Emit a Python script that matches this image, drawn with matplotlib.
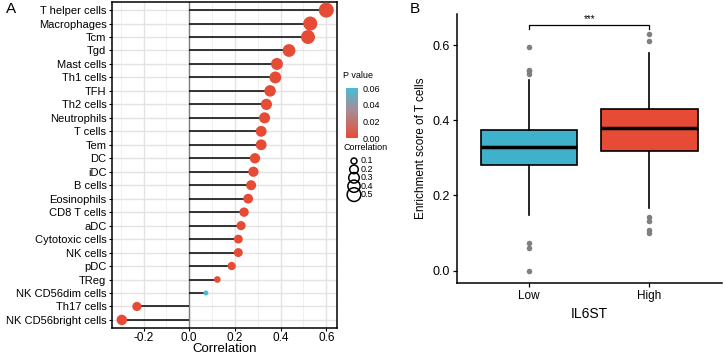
import numpy as np
import matplotlib
matplotlib.use('Agg')
import matplotlib.pyplot as plt
from matplotlib.colors import LinearSegmentedColormap

plt.rcParams['font.family'] = ['Liberation Sans', 'DejaVu Sans']

# ---- panel A data (top to bottom) ----
cells = ['T helper cells', 'Macrophages', 'Tcm', 'Tgd', 'Mast cells', 'Th1 cells', 'TFH',
         'Th2 cells', 'Neutrophils', 'T cells', 'Tem', 'DC', 'iDC', 'B cells', 'Eosinophils',
         'CD8 T cells', 'aDC', 'Cytotoxic cells', 'NK cells', 'pDC', 'TReg',
         'NK CD56dim cells', 'Th17 cells', 'NK CD56bright cells']
corr = [0.60, 0.53, 0.52, 0.437, 0.384, 0.377, 0.354, 0.338, 0.33, 0.315, 0.315, 0.288,
        0.281, 0.271, 0.258, 0.240, 0.227, 0.215, 0.215, 0.186, 0.123, 0.073, -0.229, -0.295]
pval = [0.0, 0.0, 0.0, 0.0, 0.0, 0.0, 0.0, 0.0, 0.0, 0.0, 0.0, 0.0, 0.0, 0.0, 0.0, 0.0,
        0.0, 0.0, 0.0, 0.0, 0.001, 0.06, 0.0, 0.0]
size_breaks = [0.1, 0.2, 0.3, 0.4, 0.5]

# ---- panel B data (box statistics) ----
groups = ['Low', 'High']
q1 = [0.281, 0.318]
med = [0.330, 0.379]
q3 = [0.374, 0.430]
wlo = [0.148, 0.166]
whi = [0.507, 0.580]
outliers = [[0.594, 0.535, 0.532, 0.522, 0.074, 0.060, 0.0],
            [0.631, 0.612, 0.144, 0.133, 0.108, 0.099]]
box_colors = ['#3FB1CB', '#E64B35']

red = '#E64B35'
blue = '#4DBBD5'
cmap = LinearSegmentedColormap.from_list('pv', [red, '#B0868C', blue])


def dot_size(r):
    # ggplot-like area scaling
    return 13 + (abs(r) - 0.073) / (0.6 - 0.073) * 104


W, H = 724, 358
fig = plt.figure(figsize=(W / 100, H / 100), dpi=100)

# ================= A =================
ax = fig.add_axes([112 / W, 1 - 328 / H, 225 / W, 326 / H])
n = len(cells)
ypos = np.arange(n)[::-1]
ax.hlines(ypos, 0, corr, color='black', lw=1.1, zorder=2)
sc = ax.scatter(corr, ypos, s=[dot_size(c) for c in corr], c=pval, cmap=cmap,
                vmin=0, vmax=0.06, zorder=3, linewidths=0)
ax.axvline(0, color='#7f7f7f', lw=1, zorder=1.5)
ax.set_xlim(-0.338, 0.647)
ax.set_ylim(-0.6, n - 0.4)
ax.set_yticks(ypos)
ax.set_yticklabels(cells, fontsize=8)
ax.set_xticks([-0.2, 0.0, 0.2, 0.4, 0.6])
ax.set_xticklabels(['-0.2', '0.0', '0.2', '0.4', '0.6'], fontsize=8.5)
ax.set_xticks([-0.3, -0.1, 0.1, 0.3, 0.5], minor=True)
ax.grid(True, which='major', color='#E3E3E3', lw=1.0, zorder=0)
ax.grid(True, which='minor', axis='x', color='#EEEEEE', lw=0.6, zorder=0)
ax.set_axisbelow(True)
ax.tick_params(axis='both', which='major', length=2.5, width=0.8, pad=1.5)
ax.tick_params(axis='x', which='major', pad=0.5)
ax.tick_params(axis='x', which='minor', length=0)
for s in ax.spines.values():
    s.set_linewidth(1.1)
ax.set_xlabel('Correlation', fontsize=9.5, labelpad=-0.5)
fig.text(0.008, 0.975, 'A', fontsize=11, va='center')

# colour bar for p value
fig.text(343 / W, 1 - 76 / H, 'P value', fontsize=6.5, va='center')
cax = fig.add_axes([346 / W, 1 - 138 / H, 12 / W, 50 / H])
cb = fig.colorbar(sc, cax=cax, ticks=[0, 0.02, 0.04, 0.06])
cb.ax.set_yticklabels(['0.00', '0.02', '0.04', '0.06'], fontsize=6.5)
cb.outline.set_visible(False)
cb.ax.tick_params(length=2, width=0.6, color='white', pad=1)

# size legend, drawn in pixel units
lax = fig.add_axes([336 / W, 1 - 205 / H, 50 / W, 65 / H])
lax.set_xlim(336, 386)
lax.set_ylim(205, 140)
lax.axis('off')
lax.text(344, 148, 'Correlation', fontsize=6.5, va='center', ha='left')
for i, b in enumerate(size_breaks):
    yy = 161 + i * 8.4
    lax.scatter([354], [yy], s=dot_size(b), facecolor='none', edgecolor='black',
                linewidths=1.1, clip_on=False)
    lax.text(361, yy, str(b), fontsize=6.5, va='center', ha='left')

# ================= B =================
bx = fig.add_axes([456.7 / W, 1 - 283 / H, 265 / W, 269 / H])
stats = []
for i, g in enumerate(groups):
    stats.append(dict(label=g, q1=q1[i], med=med[i], q3=q3[i], whislo=wlo[i],
                      whishi=whi[i], fliers=outliers[i]))
bp = bx.bxp(stats, positions=[1, 2], widths=0.8, patch_artist=True, showcaps=False,
            boxprops=dict(lw=1.2, edgecolor='black'),
            medianprops=dict(color='black', lw=2.5),
            whiskerprops=dict(color='black', lw=1.2),
            flierprops=dict(marker='o', markerfacecolor='#7f7f7f', markeredgecolor='none',
                            markersize=4))
for patch, col in zip(bp['boxes'], box_colors):
    patch.set_facecolor(col)
bx.set_xlim(0.4, 2.6)
bx.set_ylim(-0.033, 0.683)
bx.set_yticks([0.0, 0.2, 0.4, 0.6])
bx.set_yticklabels(['0.0', '0.2', '0.4', '0.6'], fontsize=9)
bx.set_xticks([1, 2])
bx.set_xticklabels(groups, fontsize=8.5)
bx.spines['top'].set_visible(False)
bx.spines['right'].set_visible(False)
bx.spines['left'].set_linewidth(1.1)
bx.spines['bottom'].set_linewidth(1.1)
bx.tick_params(length=3, width=0.9, pad=2)
bx.set_ylabel('Enrichment score of T cells', fontsize=8.5, labelpad=4)
bx.set_xlabel('IL6ST', fontsize=10, labelpad=4)
bx.plot([1, 1, 2, 2], [0.643, 0.653, 0.653, 0.643], color='black', lw=0.9)
bx.text(1.5, 0.656, '***', ha='center', va='bottom', fontsize=7)
fig.text(0.566, 0.975, 'B', fontsize=11, va='center')

fig.savefig('out.png', dpi=100)
